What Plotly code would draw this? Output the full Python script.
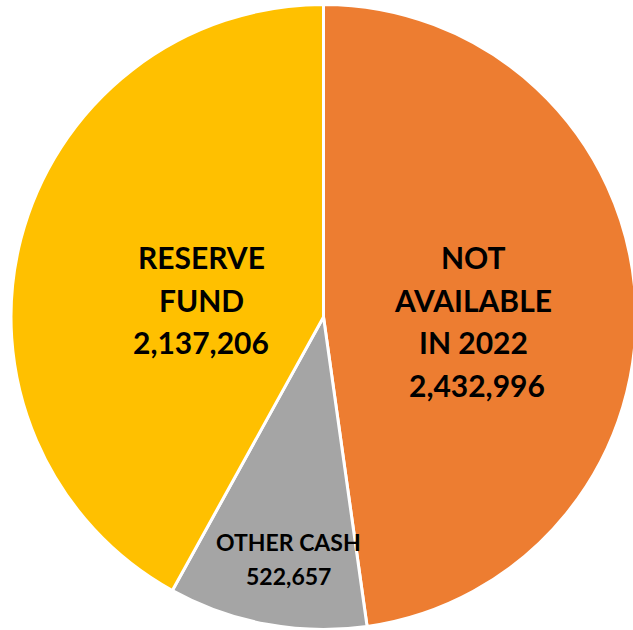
import plotly.graph_objects as go

labels = ["NOT AVAILABLE IN 2022", "OTHER CASH", "RESERVE FUND"]
values = [2432996, 522657, 2137206]
colors = ["#ED7D31", "#A5A5A5", "#FFC000"]
label_lines = [["NOT", "AVAILABLE", "IN 2022"], ["OTHER CASH"], ["RESERVE", "FUND"]]

W, H = 636, 630

fig = go.Figure(go.Pie(
    labels=labels, values=values, sort=False, direction="clockwise", rotation=0,
    marker=dict(colors=colors, line=dict(color="white", width=3)),
    textinfo="none", hoverinfo="label+value", showlegend=False,
    domain=dict(x=[11 / W, 1], y=[0, 1 - 4 / H]),
))

# label block placement (pixel centres in the picture), font sizes, line spacing
blocks = [
    dict(cx=473, cy=257, size=30, step=42.5, numdx=4),
    dict(cx=288, cy=542, size=23, step=34, numdx=0),
    dict(cx=201, cy=257, size=30, step=42.5, numdx=0),
]

annotations = []
for lines, v, b in zip(label_lines, values, blocks):
    all_lines = lines + [f"{v:,}"]
    for i, t in enumerate(all_lines):
        dx = b["numdx"] if i == len(all_lines) - 1 else 0
        annotations.append(dict(
            text=f"<b>{t}</b>", showarrow=False, xref="paper", yref="paper",
            x=(b["cx"] + dx) / W, y=1 - (b["cy"] + i * b["step"]) / H,
            xanchor="center", yanchor="middle",
            font=dict(family="Lato", size=b["size"], color="black"),
        ))

fig.update_layout(
    width=W, height=H, margin=dict(l=0, r=0, t=0, b=0),
    paper_bgcolor="white", plot_bgcolor="white", annotations=annotations,
)
fig.write_html(
    "out.html",
    config={"displayModeBar": False},
    post_script="document.body.style.margin='0';document.body.style.overflow='hidden';"
                "document.documentElement.style.overflow='hidden';",
)
